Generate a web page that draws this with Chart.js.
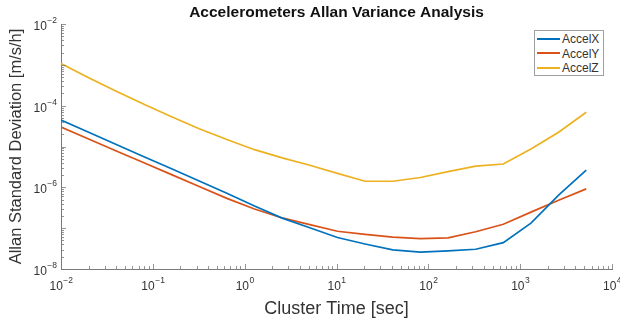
<!DOCTYPE html>
<html><head><meta charset="utf-8">
<script src="https://cdn.jsdelivr.net/npm/chart.js@4/dist/chart.umd.min.js"></script>
<style>
html,body{margin:0;padding:0;background:#fff;}
#wrap{position:relative;width:620px;height:322px;}
#legend{position:absolute;left:534px;top:30px;width:70px;height:46px;border:1px solid #a0a0a0;background:#fff;font-family:"Liberation Sans",Arial,sans-serif;font-size:12px;color:#333;box-sizing:border-box;padding-top:1px;}
#legend div{height:14.5px;line-height:14.5px;white-space:nowrap;}
#legend span{display:inline-block;width:23px;height:2px;vertical-align:middle;margin:0 2px 0 2px;position:relative;top:-1px;}
</style></head>
<body><div id="wrap"><canvas id="c" width="620" height="322"></canvas>
<div id="legend"></div></div>
<script>
const clusterTime = [0.01,0.02,0.04,0.08,0.16,0.32,0.64,1.28,2.56,5.12,10.24,20.48,40.96,81.92,163.84,327.68,655.36,1310.72,2621.44,5242.88];
const accelX = [4.44e-5,2.23e-5,1.12e-5,5.62e-6,2.84e-6,1.43e-6,7.16e-7,3.50e-7,1.76e-7,1.02e-7,5.89e-8,4.10e-8,2.95e-8,2.58e-8,2.79e-8,3.05e-8,4.42e-8,1.33e-7,6.46e-7,2.64e-6];
const accelY = [2.99e-5,1.53e-5,7.80e-6,4.01e-6,2.05e-6,1.05e-6,5.37e-7,2.95e-7,1.78e-7,1.22e-7,8.39e-8,7.05e-8,6.05e-8,5.53e-8,5.78e-8,8.17e-8,1.25e-7,2.47e-7,4.85e-7,9.18e-7];
const accelZ = [1.08e-3,4.85e-4,2.25e-4,1.08e-4,5.35e-5,2.73e-5,1.48e-5,8.36e-6,5.25e-6,3.47e-6,2.19e-6,1.41e-6,1.41e-6,1.74e-6,2.43e-6,3.31e-6,3.72e-6,8.71e-6,2.24e-5,6.92e-5];
const seriesNames = ["AccelX","AccelY","AccelZ"];
const seriesColors = ["#0072BD","#D95319","#EDB120"];
const xDecades = [-2,-1,0,1,2,3,4];
const yDecades = [-8,-7,-6,-5,-4,-3,-2];
const yLabelDecades = [-8,-6,-4,-2];
const chartTitle = 'Accelerometers Allan Variance Analysis';

function logTicks(decs){
  const t=[];
  for(let i=0;i<decs.length;i++){
    const d=decs[i];
    t.push({value:Math.pow(10,d),major:true,exp:d});
    if(i<decs.length-1){for(let m=2;m<=9;m++)t.push({value:m*Math.pow(10,d),major:false});}
  }
  return t;
}
const FONT='"Liberation Sans", Arial, sans-serif';
const tickColor='#7a7a7a';
const labelColor='#333';

const innerTicks={
  id:'innerTicks',
  afterDatasetsDraw(chart){
    const ctx=chart.ctx, a=chart.chartArea;
    ctx.save();ctx.strokeStyle=tickColor;ctx.lineWidth=0.8;
    const xs=chart.scales.x, ys=chart.scales.y;
    xs.ticks.forEach(t=>{const p=Math.round(xs.getPixelForValue(t.value))+0.5;const L=t.major?5:3;ctx.beginPath();ctx.moveTo(p,a.bottom);ctx.lineTo(p,a.bottom-L);ctx.stroke();});
    ys.ticks.forEach(t=>{const p=Math.round(ys.getPixelForValue(t.value))+0.5;const L=t.major?5:3;ctx.beginPath();ctx.moveTo(a.left,p);ctx.lineTo(a.left+L,p);ctx.stroke();});
    // title centred over the axes
    ctx.fillStyle='#111';ctx.font='bold 15.5px '+FONT;ctx.textAlign='center';ctx.textBaseline='middle';
    ctx.fillText(chartTitle,(a.left+a.right)/2,12.5);
    // power-of-ten tick labels with superscript exponents
    ctx.fillStyle=labelColor;ctx.textBaseline='alphabetic';
    const baseF='12px '+FONT, expF='8.5px '+FONT;
    xs.ticks.forEach(t=>{
      if(!t.major)return;
      const p=xs.getPixelForValue(t.value);
      ctx.font=baseF;const w1=ctx.measureText('10').width;
      ctx.font=expF;const e=String(t.exp).replace('-','\u2212');const w2=ctx.measureText(e).width;
      const s=p-(w1+w2)/2;
      ctx.font=baseF;ctx.textAlign='left';ctx.fillText('10',s,a.bottom+21);
      ctx.font=expF;ctx.fillText(e,s+w1+0.5,a.bottom+14);
    });
    ys.ticks.forEach(t=>{
      if(!t.major||!yLabelDecades.includes(t.exp))return;
      const p=ys.getPixelForValue(t.value);
      ctx.font=expF;const e=String(t.exp).replace('-','\u2212');const w2=ctx.measureText(e).width;
      const r=a.left-4;
      ctx.textAlign='right';ctx.fillText(e,r,p-1);
      ctx.font=baseF;ctx.fillText('10',r-w2-0.5,p+6);
    });
    ctx.restore();
  }
};

const datasets=[accelX,accelY,accelZ].map((vals,i)=>({
  label:seriesNames[i],
  data:clusterTime.map((t,j)=>({x:t,y:vals[j]})),
  borderColor:seriesColors[i],backgroundColor:seriesColors[i],
  borderWidth:1.7,pointRadius:0,tension:0,fill:false
}));

new Chart(document.getElementById('c'),{
  type:'line',
  data:{datasets},
  plugins:[innerTicks],
  options:{
    responsive:false,animation:false,
    layout:{padding:{left:0,right:8,top:24,bottom:0}},
    plugins:{legend:{display:false},tooltip:{enabled:false},title:{display:false}},
    scales:{
      x:{type:'logarithmic',min:0.01,max:10000,
        afterBuildTicks(s){s.ticks=logTicks(xDecades);},
        afterFit(s){s.height=53;},
        grid:{display:false},border:{display:true,color:tickColor,width:1},
        ticks:{display:false,autoSkip:false},
        title:{display:true,text:'Cluster Time [sec]',color:labelColor,font:{family:FONT,size:18},padding:{top:0,bottom:2}}
      },
      y:{type:'logarithmic',min:1e-8,max:1e-2,
        afterBuildTicks(s){s.ticks=logTicks(yDecades);},
        afterFit(s){s.width=61;},
        grid:{display:false},border:{display:true,color:tickColor,width:1},
        ticks:{display:false,autoSkip:false},
        title:{display:true,text:'Allan Standard Deviation [m/s/h]',color:labelColor,font:{family:FONT,size:16.5},padding:{top:7,bottom:0}}
      }
    }
  }
});

const lg=document.getElementById('legend');
seriesNames.forEach((n,i)=>{const d=document.createElement('div');const s=document.createElement('span');s.style.background=seriesColors[i];d.appendChild(s);d.appendChild(document.createTextNode(n));lg.appendChild(d);});
</script></body></html>
